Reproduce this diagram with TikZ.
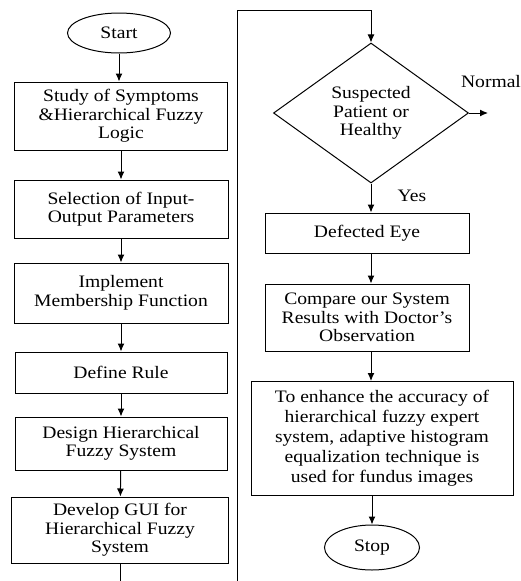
\documentclass[tikz,border=0pt]{standalone}
\usepackage{fontspec}
\setmainfont{Liberation Serif}[FakeStretch=1.12]
\usetikzlibrary{arrows.meta, calc, positioning, shapes.geometric}

\begin{document}
\begin{tikzpicture}[x=1pt, y=-1pt, line width=1pt, >={Latex[length=8pt,width=7pt]},
    font=\fontsize{17.5}{18.5}\selectfont,
    box/.style={draw, align=center, inner sep=0pt},
    term/.style={draw, ellipse, inner sep=0pt},
    lbl/.style={inner sep=0pt}]
    \useasboundingbox (0,0) rectangle (520,581);

    % 左列
    \node[term, minimum width=103pt, minimum height=40pt] (start) at (119,33) {Start};
    \node[box, minimum width=213pt, minimum height=68pt] (study) at (121,116)
        {Study of Symptoms\\ \&Hierarchical Fuzzy\\ Logic};
    \node[box, minimum width=214pt, minimum height=58pt] (select) at (121,209)
        {Selection of Input-\\ Output Parameters};
    \node[box, minimum width=214pt, minimum height=60pt] (member) at (121,293)
        {Implement\\ Membership Function};
    \node[box, minimum width=212pt, minimum height=41pt] (rule) at (121,372.5) {Define Rule};
    \node[box, minimum width=212pt, minimum height=53pt] (design) at (121,443.5)
        {Design Hierarchical\\ Fuzzy System};
    \node[box, minimum width=217pt, minimum height=66pt] (gui) at (120,530)
        {Develop GUI for\\ Hierarchical Fuzzy\\ System};

    % 左列箭头
    \draw[->] (start) -- (start |- study.north);
    \draw[->] (study) -- (select);
    \draw[->] (select) -- (member);
    \draw[->] (member) -- (rule);
    \draw[->] (rule) -- (design);
    \draw[->] (design) -- (gui);
    \coordinate (leftend) at (120,581);
    \draw (gui) -- (leftend);

    % 转到右列
    \coordinate (colbot) at (237,581);
    \coordinate (turn) at (237,10);

    % 右列
    \node[draw, diamond, aspect=1.39, minimum width=195pt, minimum height=140pt, inner sep=0pt,
        align=center] (check) at (371,113) {Suspected\\ Patient or\\ Healthy};
    \node[box, minimum width=204pt, minimum height=40pt] (eye) at (367,233) {Defected Eye};
    \node[box, minimum width=204pt, minimum height=67pt] (compare) at (367,317.5)
        {Compare our System\\ Results with Doctor's\\ Observation};
    \node[box, minimum width=262pt, minimum height=114pt, font=\fontsize{17.5}{20}\selectfont]
        (enhance) at (382,438.5)
        {To enhance the accuracy of\\ hierarchical fuzzy expert\\ system, adaptive histogram\\
         equalization technique is\\ used for fundus images};
    \node[term, minimum width=95pt, minimum height=45pt] (stop) at (372,547.5) {Stop};

    % 右列箭头
    \draw[->] (colbot) -- (turn) -| (check);
    \coordinate (normalend) at (488,113);
    \draw[->] (check) -- (normalend);
    \node[lbl] (normal) at (491,82) {Normal};
    \draw[->] (check.south) -- (check.south |- eye.north);
    \node[lbl] (yes) at (412,196) {Yes};
    \draw[->] (eye.south -| check) -- (check |- compare.north);
    \draw[->] (compare.south -| check) -- (check |- enhance.north);
    \draw[->] (enhance.south -| stop) -- (stop);
\end{tikzpicture}
\end{document}
